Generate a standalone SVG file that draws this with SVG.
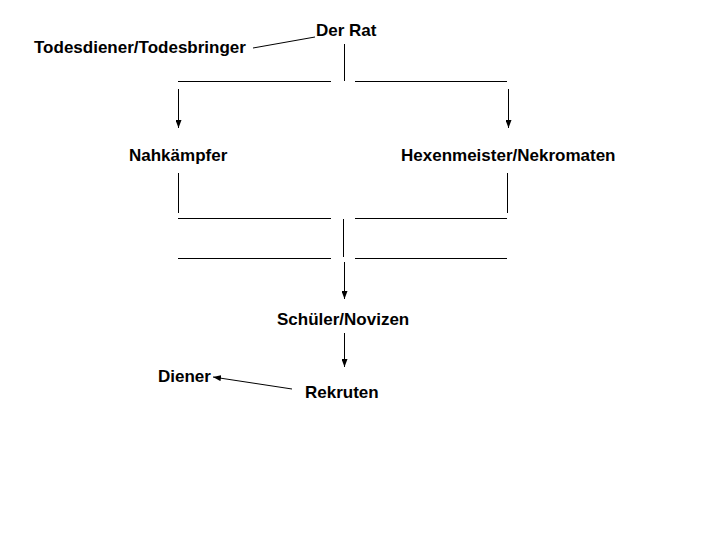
<svg xmlns="http://www.w3.org/2000/svg" width="720" height="540" viewBox="0 0 720 540">
<style>
text{font-family:"Liberation Sans",Arial,sans-serif;font-size:17px;font-weight:bold;fill:#000}
.c line{stroke:#000;stroke-width:1;fill:none}
</style>
<defs>
<marker id="ah" markerWidth="8" markerHeight="6" refX="8" refY="3" orient="auto" markerUnits="userSpaceOnUse">
<path d="M0,0 L8,3 L0,6 Z" fill="#000"/>
</marker>
</defs>
<rect width="720" height="540" fill="#fff"/>
<g id="rat"><text x="316" y="36">Der Rat</text></g>
<g id="todesdiener"><text x="34" y="53">Todesdiener/Todesbringer</text></g>
<g id="nahkaempfer"><text x="129" y="161">Nahkämpfer</text></g>
<g id="hexenmeister"><text x="401" y="161">Hexenmeister/Nekromaten</text></g>
<g id="schueler"><text x="277" y="325">Schüler/Novizen</text></g>
<g id="diener"><text x="158" y="382">Diener</text></g>
<g id="rekruten"><text x="305" y="398">Rekruten</text></g>
<g class="c" id="connectors">
<line x1="253" y1="48" x2="315" y2="37"/>
<line x1="344.5" y1="44" x2="344.5" y2="81"/>
<line x1="178" y1="81.5" x2="331" y2="81.5"/>
<line x1="355" y1="81.5" x2="507" y2="81.5"/>
<line x1="178.5" y1="89" x2="178.5" y2="128" marker-end="url(#ah)"/>
<line x1="508.5" y1="89" x2="508.5" y2="128" marker-end="url(#ah)"/>
<line x1="178.5" y1="173" x2="178.5" y2="213"/>
<line x1="507.5" y1="173" x2="507.5" y2="213"/>
<line x1="178" y1="218.5" x2="331" y2="218.5"/>
<line x1="355" y1="218.5" x2="507" y2="218.5"/>
<line x1="343.5" y1="219" x2="343.5" y2="257"/>
<line x1="178" y1="258.5" x2="331" y2="258.5"/>
<line x1="355" y1="258.5" x2="507" y2="258.5"/>
<line x1="344.5" y1="262" x2="344.5" y2="299" marker-end="url(#ah)"/>
<line x1="344.5" y1="333" x2="344.5" y2="367" marker-end="url(#ah)"/>
<line x1="292" y1="389" x2="213" y2="377" marker-end="url(#ah)"/>
</g>
</svg>
